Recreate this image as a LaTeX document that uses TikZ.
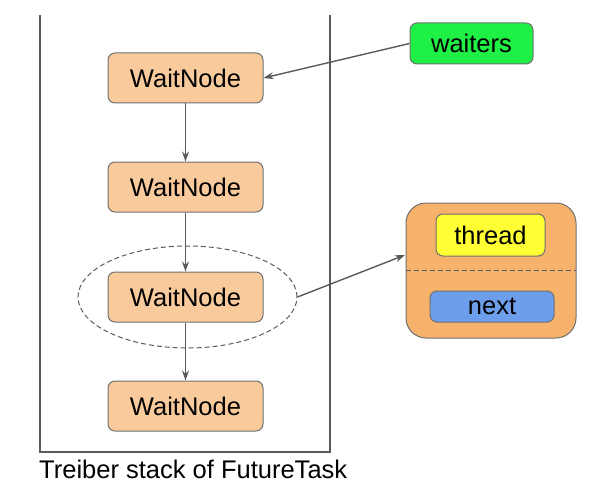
\documentclass[tikz,border=0pt]{standalone}
\usepackage{fontspec}
\setmainfont{Liberation Sans}
\usetikzlibrary{arrows.meta,shapes.geometric}
\definecolor{peach}{HTML}{F9CB9C}
\definecolor{orangebox}{HTML}{F6B26B}
\definecolor{yellowbox}{HTML}{FFFF33}
\definecolor{bluebox}{HTML}{6D9EEB}
\definecolor{greenbox}{HTML}{1EF046}
\definecolor{bordergray}{HTML}{707070}
\definecolor{linegray}{HTML}{5A5A5A}
\tikzset{
  box/.style={draw=bordergray, line width=1pt, rounded corners=7pt, inner sep=0pt, font=\fontsize{25.5}{30}\selectfont},
  waitnode/.style={box, fill=peach, minimum width=155pt, minimum height=50pt},
  conn/.style={draw=linegray, line width=1.4pt, -{Stealth[length=10pt,width=7pt]}},
  wall/.style={draw=linegray, line width=2.5pt},
  dashline/.style={draw=linegray, line width=1pt, dash pattern=on 5pt off 3pt},
}
\begin{document}
\begin{tikzpicture}[x=1pt,y=-1pt]
\useasboundingbox (0,0) rectangle (594,492);
% container
\draw[wall] (40,15) -- (40,452) -- (330,452) -- (330,15);
\node[anchor=base west, inner sep=0pt, font=\fontsize{25.5}{30}\selectfont] (label) at (39,478) {Treiber stack of FutureTask};
% wait nodes
\node[waitnode] (w1) at (185.5,78) {WaitNode};
\node[waitnode] (w2) at (185.5,187) {WaitNode};
\node[waitnode] (w3) at (185.5,297) {WaitNode};
\node[waitnode] (w4) at (185.5,406) {WaitNode};
\draw[conn] (w1) -- (w2);
\draw[conn] (w2) -- (w3);
\draw[conn] (w3) -- (w4);
% dashed ellipse
\node[dashline, ellipse, minimum width=219pt, minimum height=102pt] (ell) at (187.5,297) {};
% waiters
\node[box, fill=greenbox, minimum width=123pt, minimum height=41pt] (waiters) at (471.5,43.5) {waiters};
\draw[conn] (waiters.west) -- (w1.east);
% detail box
\node[draw=bordergray, line width=1pt, fill=orangebox, rounded corners=20pt, minimum width=170pt, minimum height=135pt, inner sep=0pt] (detail) at (491,270.5) {};
\coordinate (dl) at (406,270);
\coordinate (dr) at (576,270);
\draw[dashline] (dl) -- (dr);
\node[box, fill=yellowbox, minimum width=109pt, minimum height=42pt] (thread) at (490.5,235) {thread};
\node[box, fill=bluebox, minimum width=124pt, minimum height=31pt] (next) at (492,306.5) {next};
\coordinate (tip) at (405,255);
\draw[conn] (ell.east) -- (tip);
\end{tikzpicture}
\end{document}
